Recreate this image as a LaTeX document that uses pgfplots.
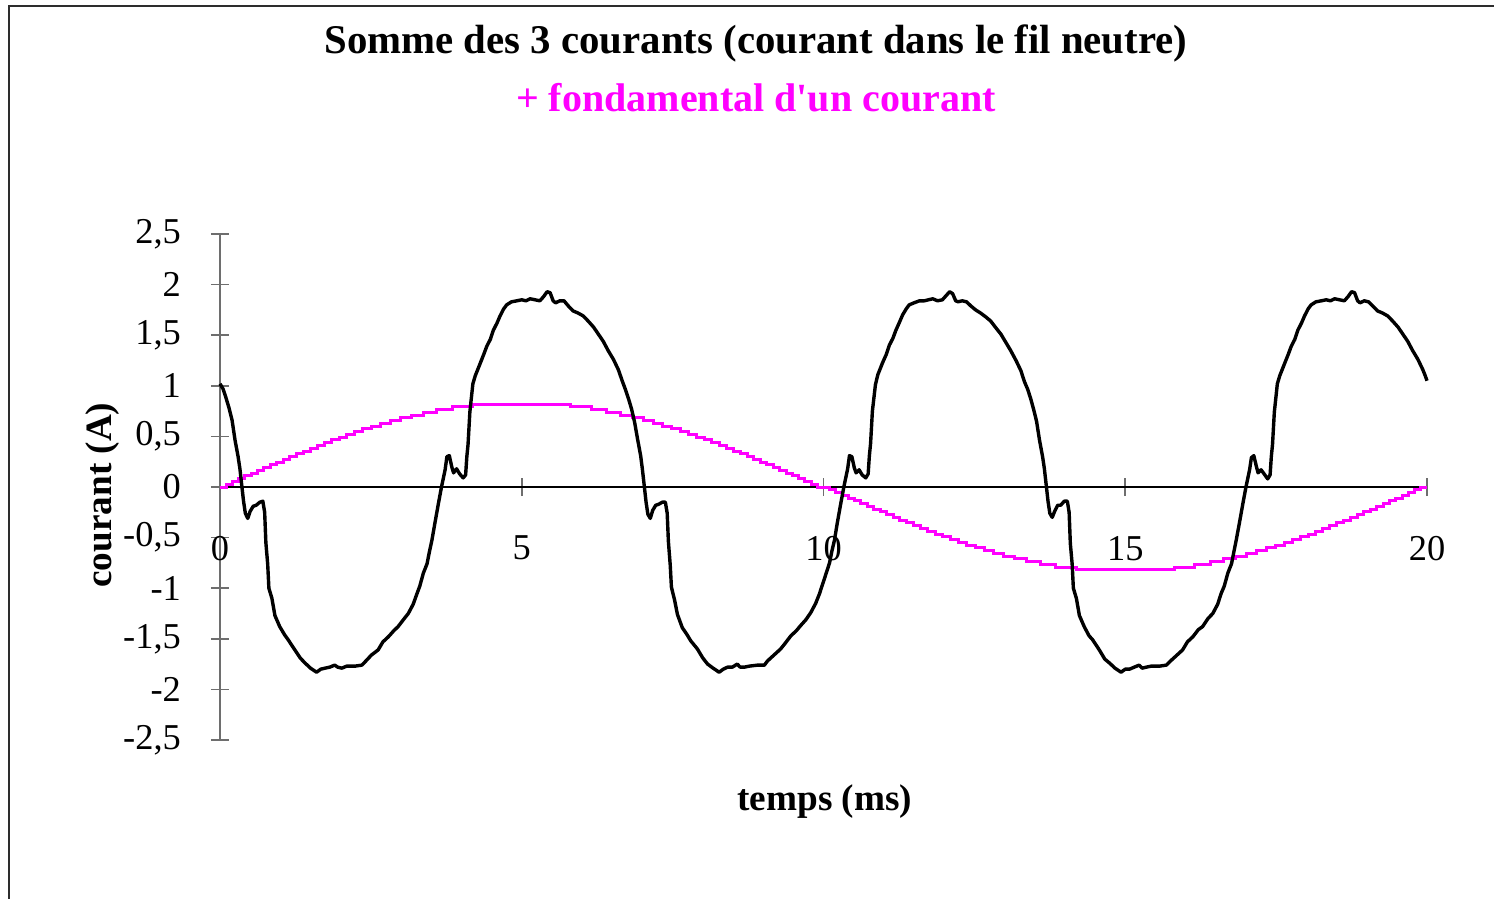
\documentclass[border=0pt]{standalone}
\usepackage{fontspec}
\setmainfont{Liberation Serif}[Ligatures=TeXOff]
\usepackage{pgfplots}
\pgfplotsset{compat=1.18}
\definecolor{fund}{RGB}{255,0,255}
\definecolor{framegray}{RGB}{45,45,45}
\definecolor{axisgray}{RGB}{110,110,110}
\begin{document}
\begin{tikzpicture}
\path[use as bounding box] (0pt,0pt) rectangle (373.5pt,224.5pt);
\draw[framegray, line width=0.6pt] (2.25pt,-2pt) -- (2.25pt,223pt) -- (376pt,223pt);
\begin{axis}[
  at={(55pt,39.5pt)}, anchor=south west,
  scale only axis, width=301.75pt, height=126.5pt,
  xmin=0, xmax=20, ymin=-2.5, ymax=2.5,
  clip=false,
  axis lines=middle, axis line style={-},
  x axis line style={black, line width=0.4pt},
  y axis line style={axisgray, line width=0.45pt},
  xtick={0,5,10,15,20},
  ytick={-2.5,-2,-1.5,-1,-0.5,0,0.5,1,1.5,2,2.5},
  hide obscured x ticks=false, hide obscured y ticks=false,
  tick align=center, major tick length=4.5pt,
  tick style={axisgray, line width=0.4pt},
  /pgf/number format/use comma,
  /pgf/number format/assume math mode=true,
  ticklabel style={font=\fontsize{9.1}{11}\selectfont},
  xticklabel style={anchor=north, yshift=-6.5pt},
  yticklabel style={anchor=east, xshift=-4pt},
  every axis x label/.style={at={(rel axis cs:0.501,-0.1225)}, anchor=center,
    font=\bfseries\fontsize{9.3}{11}\selectfont},
  every axis y label/.style={at={(rel axis cs:-0.0969,0.484)}, anchor=center, rotate=90,
    font=\bfseries\fontsize{9.3}{11}\selectfont},
  xlabel={temps (ms)},
  ylabel={courant (A)},
]
% fondamental d'un courant (signal numerise, quantifie)
\addplot[const plot, color=fund, line width=0.75pt] coordinates {
(0,0) (0.103,0.027) (0.206,0.055) (0.309,0.082) (0.412,0.109) (0.516,0.137)
(0.620,0.164) (0.725,0.191) (0.831,0.219) (0.938,0.246) (1.046,0.273)
(1.155,0.301) (1.265,0.328) (1.377,0.355) (1.492,0.383) (1.608,0.410)
(1.726,0.437) (1.848,0.465) (1.972,0.492) (2.100,0.519) (2.232,0.547)
(2.369,0.574) (2.511,0.601) (2.661,0.629) (2.818,0.656) (2.986,0.683)
(3.167,0.711) (3.365,0.738) (3.588,0.765) (3.850,0.793) (4.189,0.820)
(5.811,0.793) (6.150,0.765) (6.412,0.738) (6.635,0.711) (6.833,0.683)
(7.014,0.656) (7.182,0.629) (7.339,0.601) (7.489,0.574) (7.631,0.547)
(7.768,0.519) (7.900,0.492) (8.028,0.465) (8.152,0.437) (8.274,0.410)
(8.392,0.383) (8.508,0.355) (8.623,0.328) (8.735,0.301) (8.845,0.273)
(8.954,0.246) (9.062,0.219) (9.169,0.191) (9.275,0.164) (9.380,0.137)
(9.484,0.109) (9.588,0.082) (9.691,0.055) (9.794,0.027) (9.897,0)
(10.103,-0.027) (10.206,-0.055) (10.309,-0.082) (10.412,-0.109) (10.516,-0.137)
(10.620,-0.164) (10.725,-0.191) (10.831,-0.219) (10.938,-0.246) (11.046,-0.273)
(11.155,-0.301) (11.265,-0.328) (11.377,-0.355) (11.492,-0.383) (11.608,-0.410)
(11.726,-0.437) (11.848,-0.465) (11.972,-0.492) (12.100,-0.519) (12.232,-0.547)
(12.369,-0.574) (12.511,-0.601) (12.661,-0.629) (12.818,-0.656) (12.986,-0.683)
(13.167,-0.711) (13.365,-0.738) (13.588,-0.765) (13.850,-0.793) (14.189,-0.820)
(15.811,-0.793) (16.150,-0.765) (16.412,-0.738) (16.635,-0.711) (16.833,-0.683)
(17.014,-0.656) (17.182,-0.629) (17.339,-0.601) (17.489,-0.574) (17.631,-0.547)
(17.768,-0.519) (17.900,-0.492) (18.028,-0.465) (18.152,-0.437) (18.274,-0.410)
(18.392,-0.383) (18.508,-0.355) (18.623,-0.328) (18.735,-0.301) (18.845,-0.273)
(18.954,-0.246) (19.062,-0.219) (19.169,-0.191) (19.275,-0.164) (19.380,-0.137)
(19.484,-0.109) (19.588,-0.082) (19.691,-0.055) (19.794,-0.027) (19.897,0)
(20,0)
};
% somme des 3 courants (courant dans le neutre)
\addplot[black, line width=0.85pt, line join=round] coordinates {
(0.00,1.02) (0.05,0.97) (0.10,0.88) (0.15,0.78) (0.20,0.66) (0.25,0.46)
(0.30,0.30) (0.33,0.18) (0.36,0.02) (0.39,-0.14) (0.42,-0.26) (0.46,-0.31)
(0.50,-0.24) (0.55,-0.19) (0.60,-0.18) (0.66,-0.15) (0.71,-0.14) (0.74,-0.25)
(0.76,-0.55) (0.79,-0.76) (0.81,-1.00) (0.86,-1.10) (0.91,-1.27) (0.99,-1.38)
(1.07,-1.46) (1.13,-1.51) (1.24,-1.61) (1.33,-1.69) (1.41,-1.74) (1.50,-1.79)
(1.60,-1.83) (1.67,-1.80) (1.74,-1.79) (1.82,-1.78) (1.90,-1.76) (1.95,-1.78)
(2.02,-1.79) (2.10,-1.77) (2.24,-1.77) (2.35,-1.76) (2.40,-1.73) (2.51,-1.66)
(2.62,-1.61) (2.70,-1.53) (2.79,-1.48) (2.88,-1.42) (2.95,-1.38) (3.04,-1.31)
(3.12,-1.25) (3.20,-1.16) (3.26,-1.06) (3.31,-0.98) (3.37,-0.85) (3.43,-0.76)
(3.47,-0.64) (3.51,-0.53) (3.56,-0.36) (3.62,-0.16) (3.67,0.00) (3.73,0.17)
(3.76,0.30) (3.80,0.31) (3.84,0.20) (3.87,0.14) (3.92,0.18) (3.97,0.13)
(4.03,0.09) (4.07,0.12) (4.09,0.30) (4.11,0.42) (4.14,0.74) (4.19,1.02)
(4.23,1.10) (4.31,1.22) (4.37,1.31) (4.42,1.39) (4.48,1.46) (4.53,1.55)
(4.59,1.62) (4.64,1.69) (4.70,1.76) (4.75,1.80) (4.83,1.83) (4.92,1.84)
(5.00,1.85) (5.07,1.84) (5.14,1.86) (5.22,1.85) (5.30,1.84) (5.36,1.88)
(5.42,1.93) (5.47,1.92) (5.52,1.84) (5.56,1.82) (5.63,1.84) (5.70,1.84)
(5.77,1.79) (5.85,1.74) (5.93,1.72) (6.02,1.69) (6.10,1.64) (6.19,1.58)
(6.27,1.51) (6.35,1.44) (6.43,1.35) (6.52,1.26) (6.60,1.16)
(6.67,1.04) (6.72,0.96) (6.77,0.87) (6.82,0.77) (6.87,0.64) (6.92,0.47)
(6.97,0.31) (7.00,0.17) (7.03,0.01) (7.06,-0.15) (7.09,-0.27) (7.13,-0.31)
(7.17,-0.23) (7.22,-0.18) (7.27,-0.17) (7.33,-0.15) (7.38,-0.15) (7.41,-0.26)
(7.43,-0.54) (7.46,-0.77) (7.48,-0.99) (7.53,-1.11) (7.58,-1.26) (7.66,-1.39)
(7.74,-1.46) (7.80,-1.52) (7.91,-1.60) (8.00,-1.69) (8.08,-1.75) (8.17,-1.79)
(8.27,-1.83) (8.34,-1.80) (8.41,-1.78) (8.49,-1.78) (8.57,-1.75) (8.62,-1.78)
(8.69,-1.78) (8.77,-1.77) (8.91,-1.76) (9.02,-1.76) (9.07,-1.72) (9.18,-1.66)
(9.29,-1.60) (9.37,-1.54) (9.46,-1.47) (9.55,-1.42) (9.62,-1.37) (9.71,-1.31)
(9.79,-1.24) (9.87,-1.15) (9.93,-1.06) (9.98,-0.97) (10.04,-0.86) (10.10,-0.75)
(10.14,-0.63) (10.18,-0.53) (10.23,-0.35) (10.29,-0.15) (10.34,0.01) (10.40,0.18)
(10.43,0.31) (10.47,0.30) (10.51,0.19) (10.54,0.14) (10.59,0.17) (10.64,0.12)
(10.70,0.09) (10.74,0.13) (10.76,0.31) (10.78,0.43) (10.81,0.75) (10.86,1.01)
(10.90,1.11) (10.98,1.23) (11.04,1.31) (11.09,1.40) (11.15,1.47) (11.20,1.55)
(11.26,1.63) (11.31,1.70) (11.37,1.76) (11.42,1.80) (11.50,1.82) (11.59,1.84)
(11.67,1.84) (11.74,1.85) (11.81,1.86) (11.89,1.84) (11.97,1.85) (12.03,1.89)
(12.09,1.93) (12.14,1.91) (12.19,1.84) (12.23,1.83) (12.30,1.84) (12.37,1.83)
(12.44,1.79) (12.52,1.75) (12.60,1.72) (12.69,1.68) (12.77,1.64) (12.86,1.57)
(12.94,1.51) (13.02,1.43) (13.10,1.35) (13.19,1.25) (13.27,1.15)
(13.33,1.04) (13.38,0.97) (13.43,0.88) (13.48,0.77) (13.53,0.65) (13.58,0.46)
(13.63,0.30) (13.66,0.18) (13.69,0.02) (13.72,-0.14) (13.75,-0.26) (13.79,-0.30)
(13.83,-0.24) (13.88,-0.18) (13.93,-0.18) (13.99,-0.14) (14.04,-0.14) (14.07,-0.25)
(14.09,-0.56) (14.12,-0.76) (14.14,-1.00) (14.19,-1.10) (14.24,-1.27) (14.32,-1.38)
(14.40,-1.47) (14.46,-1.51) (14.57,-1.61) (14.66,-1.70) (14.74,-1.74) (14.83,-1.79)
(14.93,-1.83) (15.00,-1.80) (15.07,-1.80) (15.15,-1.78) (15.23,-1.76) (15.28,-1.79)
(15.35,-1.78) (15.43,-1.77) (15.57,-1.77) (15.68,-1.76) (15.73,-1.73) (15.84,-1.67)
(15.95,-1.61) (16.03,-1.53) (16.12,-1.48) (16.21,-1.41) (16.28,-1.38) (16.37,-1.30)
(16.45,-1.25) (16.53,-1.16) (16.59,-1.05) (16.64,-0.98) (16.70,-0.85) (16.76,-0.76)
(16.80,-0.64) (16.84,-0.52) (16.89,-0.36) (16.95,-0.16) (17.00,0.00) (17.06,0.17)
(17.09,0.29) (17.13,0.31) (17.17,0.21) (17.20,0.14) (17.25,0.17) (17.30,0.13)
(17.36,0.08) (17.40,0.12) (17.42,0.30) (17.44,0.42) (17.47,0.74) (17.52,1.02)
(17.56,1.10) (17.64,1.22) (17.70,1.31) (17.75,1.39) (17.81,1.46) (17.86,1.55)
(17.92,1.62) (17.97,1.69) (18.03,1.76) (18.08,1.80) (18.16,1.83) (18.25,1.84)
(18.33,1.85) (18.40,1.84) (18.47,1.86) (18.55,1.85) (18.63,1.84) (18.69,1.88)
(18.75,1.93) (18.80,1.92) (18.85,1.84) (18.89,1.82) (18.96,1.84) (19.03,1.83)
(19.10,1.79) (19.18,1.74) (19.26,1.72) (19.35,1.69) (19.43,1.64) (19.52,1.58)
(19.60,1.51) (19.68,1.44) (19.76,1.35) (19.85,1.26) (19.93,1.16) (19.97,1.10)
(20.00,1.05)
};
\node[font=\bfseries\fontsize{10.2}{12}\selectfont] at (rel axis cs:0.444,1.377)
  {Somme des 3 courants (courant dans le fil neutre)};
\node[font=\bfseries\fontsize{10}{12}\selectfont, text=fund] at (rel axis cs:0.444,1.269)
  {+ fondamental d'un courant};
\end{axis}
\end{tikzpicture}
\end{document}
